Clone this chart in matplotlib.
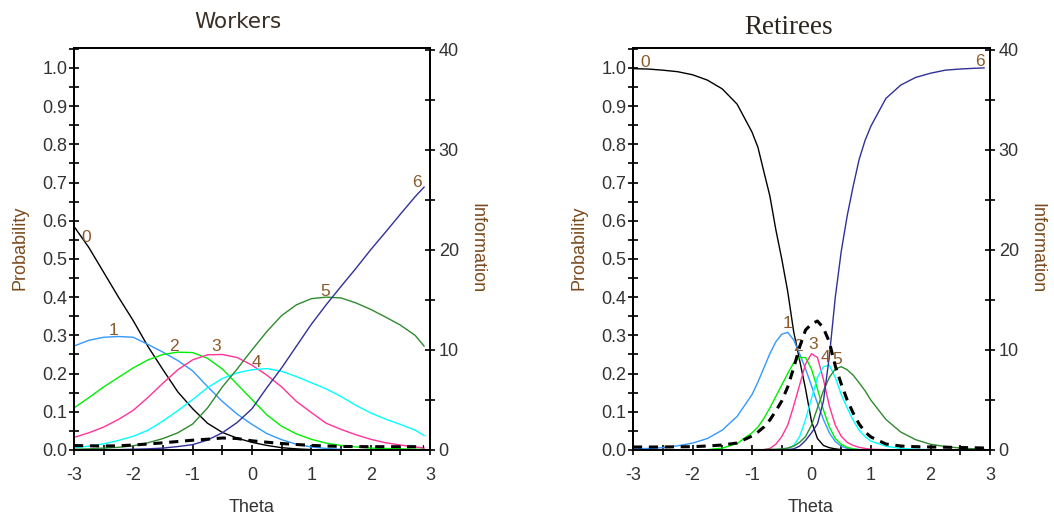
import matplotlib
matplotlib.use("Agg")
import matplotlib.pyplot as plt
from matplotlib.ticker import MultipleLocator, FixedLocator, FixedFormatter

# ---- Workers panel ----
theta_w = [-3, -2.75, -2.5, -2.25, -2, -1.75, -1.5, -1.25, -1, -0.75, -0.5, -0.25,
           0, 0.25, 0.5, 0.75, 1, 1.25, 1.5, 1.75, 2, 2.25, 2.5, 2.75, 2.9]
w_cat0 = [0.585, 0.53, 0.465, 0.40, 0.338, 0.27, 0.21, 0.152, 0.108, 0.07, 0.046, 0.031,
          0.02, 0.012, 0.006, 0.003, 0.001]
w_cat1 = [0.272, 0.287, 0.295, 0.297, 0.295, 0.276, 0.256, 0.234, 0.207, 0.166, 0.127, 0.094,
          0.067, 0.043, 0.027, 0.015, 0.008, 0.004, 0.002]
w_cat2 = [0.11, 0.137, 0.165, 0.19, 0.215, 0.236, 0.250, 0.256, 0.255, 0.240, 0.212, 0.172,
          0.132, 0.092, 0.062, 0.042, 0.028, 0.018, 0.012, 0.008, 0.005, 0.004, 0.003, 0.002, 0.002]
w_cat3 = [0.033, 0.045, 0.060, 0.080, 0.104, 0.138, 0.175, 0.210, 0.236, 0.249, 0.250, 0.242,
          0.222, 0.196, 0.165, 0.127, 0.098, 0.070, 0.054, 0.040, 0.028, 0.019, 0.013, 0.008, 0.005]
w_cat4 = [0.006, 0.010, 0.016, 0.025, 0.036, 0.052, 0.076, 0.103, 0.132, 0.163, 0.187, 0.202,
          0.210, 0.213, 0.206, 0.192, 0.176, 0.160, 0.140, 0.117, 0.097, 0.081, 0.067, 0.052, 0.038]
w_cat5 = [0.002, 0.003, 0.005, 0.007, 0.011, 0.019, 0.030, 0.045, 0.068, 0.110, 0.165, 0.212,
          0.262, 0.310, 0.352, 0.380, 0.396, 0.400, 0.398, 0.385, 0.368, 0.348, 0.327, 0.300, 0.272]
w_cat6 = [0, 0, 0.001, 0.001, 0.002, 0.003, 0.005, 0.009, 0.014, 0.026, 0.045, 0.072,
          0.108, 0.163, 0.215, 0.272, 0.329, 0.380, 0.428, 0.475, 0.524, 0.570, 0.617, 0.663, 0.688]
w_info = [0.45, 0.42, 0.40, 0.42, 0.50, 0.60, 0.72, 0.85, 0.98, 1.08, 1.2, 1.15,
          0.92, 0.78, 0.65, 0.55, 0.46, 0.40, 0.36, 0.34, 0.33, 0.33, 0.33, 0.33, 0.33]

# ---- Retirees panel ----
theta_r = [-3, -2.75, -2.5, -2.25, -2, -1.75, -1.5, -1.25, -1,
           -0.9, -0.8, -0.7, -0.6, -0.5, -0.4, -0.3, -0.2, -0.1, 0,
           0.1, 0.2, 0.3, 0.4, 0.5, 0.6, 0.7, 0.8, 0.9, 1.0,
           1.25, 1.5, 1.75, 2, 2.25, 2.5, 2.75, 2.9]
r_cat0 = [0.998, 0.997, 0.994, 0.990, 0.982, 0.968, 0.945, 0.905, 0.832,
          0.792, 0.728, 0.665, 0.577, 0.50, 0.415, 0.31, 0.235, 0.16, 0.075,
          0.03, 0.012, 0.006, 0.003, 0.001]
r_cat1 = [0.003, 0.004, 0.006, 0.011, 0.018, 0.030, 0.052, 0.088, 0.145,
          0.178, 0.215, 0.252, 0.283, 0.303, 0.308, 0.288, 0.252, 0.212, 0.168,
          0.122, 0.080, 0.045, 0.022, 0.010, 0.004, 0.002, 0.001]
r_cat2 = [0, 0, 0, 0, 0, 0.001, 0.005, 0.017, 0.045,
          0.060, 0.083, 0.110, 0.140, 0.170, 0.200, 0.228, 0.242, 0.242, 0.212,
          0.160, 0.105, 0.060, 0.030, 0.015, 0.007, 0.003, 0.001, 0, 0]
r_cat3 = [0, 0, 0, 0, 0, 0, 0, 0, 0,
          0, 0.001, 0.004, 0.015, 0.035, 0.065, 0.115, 0.170, 0.225, 0.252,
          0.242, 0.185, 0.115, 0.065, 0.036, 0.020, 0.012, 0.007, 0.004, 0.002,
          0.001, 0]
r_cat4 = [0, 0, 0, 0, 0, 0, 0, 0, 0,
          0, 0, 0, 0.001, 0.002, 0.004, 0.012, 0.035, 0.080, 0.135,
          0.190, 0.218, 0.222, 0.190, 0.145, 0.110, 0.078, 0.052, 0.035, 0.023,
          0.010, 0.004, 0.002, 0.001, 0]
r_cat5 = [0, 0, 0, 0, 0, 0, 0, 0, 0.001,
          0.001, 0.001, 0.002, 0.002, 0.003, 0.005, 0.010, 0.020, 0.035, 0.065,
          0.110, 0.155, 0.190, 0.212, 0.218, 0.210, 0.196, 0.176, 0.155, 0.130,
          0.080, 0.047, 0.027, 0.015, 0.009, 0.005, 0.003, 0.002]
r_cat6 = [0, 0, 0, 0, 0, 0, 0, 0, 0,
          0, 0, 0, 0, 0.0005, 0.001, 0.003, 0.010, 0.025, 0.045,
          0.068, 0.127, 0.245, 0.400, 0.520, 0.613, 0.690, 0.760, 0.810, 0.848,
          0.920, 0.955, 0.975, 0.986, 0.994, 0.997, 0.999, 1.0]
r_info = [0.30, 0.30, 0.30, 0.32, 0.33, 0.40, 0.50, 0.70, 1.40,
          1.80, 2.30, 3.00, 3.90, 4.90, 6.30, 8.20, 10.3, 12.0, 12.6,
          12.9, 12.2, 10.8, 8.4, 6.6, 5.0, 3.7, 2.6, 1.8, 1.3,
          0.60, 0.40, 0.33, 0.30, 0.28, 0.25, 0.22, 0.20]

cat_colors = ["#000000", "#3399ff", "#00ee00", "#ff3399", "#00ffff", "#2e8b2e", "#303099"]

# label positions (theta, probability) for the category numbers
w_label_pos = [(-2.80, 0.555), (-2.33, 0.314), (-1.31, 0.27), (-0.61, 0.27),
               (0.08, 0.23), (1.23, 0.416), (2.78, 0.699)]
r_label_pos = [(-2.80, 1.013), (-0.395, 0.332), (-0.23, 0.27), (0.03, 0.275),
               (0.23, 0.241), (0.43, 0.236), (2.83, 1.016)]

x_ticks = [-3, -2, -1, 0, 1, 2, 3]
x_labels = ["-3", "-2", "-1", "0", "1", "2", "3"]
p_ticks = [0.0, 0.1, 0.2, 0.3, 0.4, 0.5, 0.6, 0.7, 0.8, 0.9, 1.0]
p_labels = ["0.0", "0.1", "0.2", "0.3", "0.4", "0.5", "0.6", "0.7", "0.8", "0.9", "1.0"]
i_ticks = [0, 10, 20, 30, 40]
i_labels = ["0", "10", "20", "30", "40"]

W, H = 1054, 521
fig = plt.figure(figsize=(W / 100, H / 100), dpi=100)
fig.patch.set_facecolor("white")

TICK_COL = "#333333"
LAB_COL = "#7b4a1c"
NUM_COL = "#8b5a2b"
FONT = "Liberation Sans"


def panel(left_px, right_px, theta, cats, info, label_pos):
    ax = fig.add_axes([left_px / W, (H - 450) / H, (right_px - left_px) / W, 402 / H])
    for vals, col in zip(cats, cat_colors):
        ax.plot(theta[:len(vals)], vals, color=col, lw=1.0)
    for (tx, ty), k in zip(label_pos, range(7)):
        ax.text(tx, ty, str(k), color=NUM_COL, fontsize=12.5, family=FONT,
                ha="center", va="center")
    ax.set_xlim(-3, 3)
    ax.set_ylim(0, 1.052)
    ax.xaxis.set_major_locator(FixedLocator(x_ticks))
    ax.xaxis.set_major_formatter(FixedFormatter(x_labels))
    ax.xaxis.set_minor_locator(MultipleLocator(0.5))
    ax.yaxis.set_major_locator(FixedLocator(p_ticks))
    ax.yaxis.set_major_formatter(FixedFormatter(p_labels))
    ax.yaxis.set_minor_locator(MultipleLocator(0.05))
    ax.tick_params(which="both", direction="inout", length=6.5, width=1.2, color="black")
    ax.tick_params(axis="x", which="major", pad=9, labelsize=13, labelcolor=TICK_COL)
    ax.tick_params(axis="y", which="major", pad=1.5, labelsize=13, labelcolor=TICK_COL)
    for lab in ax.get_xticklabels() + ax.get_yticklabels():
        lab.set_family(FONT)

    ax2 = ax.twinx()
    ax2.plot(theta, info, color="black", lw=2.2, ls=(0, (3, 2.2)))
    ax2.set_ylim(0, 40.2)
    ax2.yaxis.set_major_locator(FixedLocator(i_ticks))
    ax2.yaxis.set_major_formatter(FixedFormatter(i_labels))
    ax2.yaxis.set_minor_locator(MultipleLocator(5))
    ax2.tick_params(which="both", direction="inout", length=6.5, width=1.2, color="black")
    ax2.tick_params(axis="y", which="major", pad=3, labelsize=13, labelcolor=TICK_COL)
    for lab in ax2.get_yticklabels():
        lab.set_family(FONT)
    for a in (ax, ax2):
        for sp in a.spines.values():
            sp.set_linewidth(1.3)
    return ax


panel(74, 430, theta_w, [w_cat0, w_cat1, w_cat2, w_cat3, w_cat4, w_cat5, w_cat6], w_info, w_label_pos)
panel(633, 990, theta_r, [r_cat0, r_cat1, r_cat2, r_cat3, r_cat4, r_cat5, r_cat6], r_info, r_label_pos)

# titles and axis labels
fig.text(238 / W, 1 - 22 / H, "Workers", ha="center", va="center", fontsize=15.5,
         family="DejaVu Sans", color="#3b2f25")
fig.text(789 / W, 1 - 27 / H, "Retirees", ha="center", va="center", fontsize=19.5,
         family="Liberation Serif", color="#2b2520")
for cx, px, ix in [(252, 20, 477), (811, 579, 1037)]:
    fig.text(cx / W, 1 - 507 / H, "Theta", ha="center", va="center", fontsize=13,
             family=FONT, color=TICK_COL)
    fig.text(px / W, 1 - 248 / H, "Probability", ha="center", va="center", fontsize=13,
             family=FONT, color=LAB_COL, rotation=90)
    fig.text(ix / W, 1 - 248 / H, "Information", ha="center", va="center", fontsize=13,
             family=FONT, color=LAB_COL, rotation=270)

fig.savefig("out.png", dpi=100)
